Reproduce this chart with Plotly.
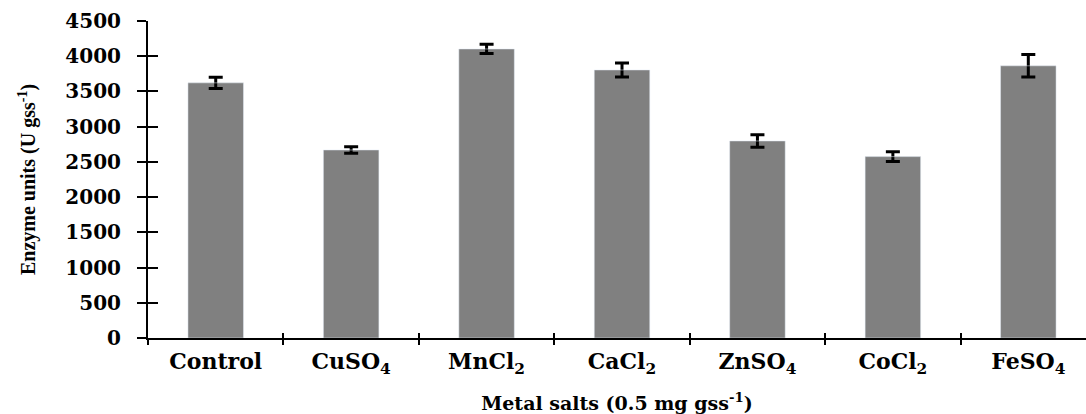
import plotly.graph_objects as go

categories = ["Control", "CuSO<sub>4</sub>", "MnCl<sub>2</sub>", "CaCl<sub>2</sub>",
              "ZnSO<sub>4</sub>", "CoCl<sub>2</sub>", "FeSO<sub>4</sub>"]
values = [3622, 2669, 4103, 3805, 2797, 2575, 3864]
errors = [80, 45, 66, 100, 90, 70, 160]
y_ticks = [0, 500, 1000, 1500, 2000, 2500, 3000, 3500, 4000, 4500]

BAR_COLOR = "#808080"
TICK_FONT = dict(family="DejaVu Serif", size=20, color="black", weight="bold")
XRANGE = [-0.5, 6.426]
YRANGE = [0, 4500]

fig = go.Figure()
fig.add_trace(go.Bar(
    x=categories, y=values, marker_color=BAR_COLOR, marker_line_width=0,
    width=0.41,
    error_y=dict(type="data", array=errors, visible=True, color="black",
                 thickness=3, width=7),
    hoverinfo="skip", showlegend=False,
))
# invisible trace to carry overlay axes (ticks crossing the axis lines)
fig.add_trace(go.Bar(
    x=categories, y=values, xaxis="x2", yaxis="y2", width=0.41,
    marker_color="rgba(0,0,0,0)", hoverinfo="skip", showlegend=False,
))

fig.update_layout(
    width=1086, height=414,
    margin=dict(l=148, r=0, t=21, b=76),
    paper_bgcolor="white", plot_bgcolor="white",
    bargap=0.59,
    xaxis=dict(
        type="category", categoryorder="array", categoryarray=categories,
        range=XRANGE, showline=True, linecolor="black", linewidth=2,
        ticks="outside", ticklen=5, tickwidth=2, tickcolor="black",
        tickson="boundaries", showgrid=False, zeroline=False,
        tickfont=dict(family="DejaVu Serif", size=22, color="black", weight="bold"),
        ticklabelstandoff=3,
        title=dict(text="Metal salts (0.5 mg gss<sup>-1</sup>)",
                   font=dict(family="DejaVu Serif", size=19, color="black", weight="bold"),
                   standoff=22),
        automargin=False,
    ),
    xaxis2=dict(
        type="category", categoryorder="array", categoryarray=categories,
        range=XRANGE, overlaying="x", anchor="y2", side="bottom",
        showline=False, ticks="inside", ticklen=5, tickwidth=2, tickcolor="black",
        tickson="boundaries", showgrid=False, zeroline=False,
        showticklabels=False,
    ),
    yaxis=dict(
        range=YRANGE, tickvals=y_ticks, showline=True, linecolor="black",
        linewidth=2, ticks="outside", ticklen=9, tickwidth=2, tickcolor="black",
        showgrid=False, zeroline=False, tickfont=TICK_FONT,
        ticklabelstandoff=12,
        title=dict(text="Enzyme units (U gss<sup>-1</sup>)",
                   font=dict(family="Liberation Serif", size=20, color="black", weight="bold"),
                   standoff=24),
        automargin=False,
    ),
    yaxis2=dict(
        range=YRANGE, tickvals=y_ticks, overlaying="y", anchor="x", side="left",
        showline=False, ticks="inside", ticklen=10, tickwidth=2, tickcolor="black",
        showgrid=False, zeroline=False, showticklabels=False,
    ),
)

fig.write_html("out.html")
